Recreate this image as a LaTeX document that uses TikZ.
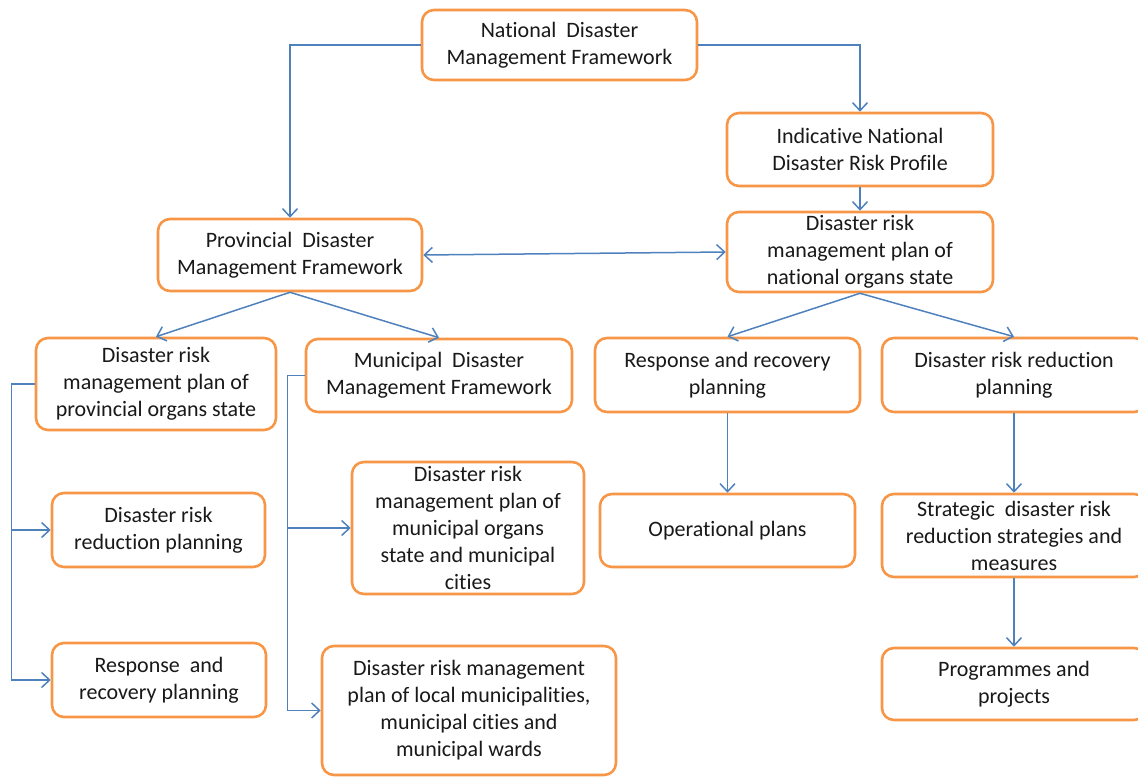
\documentclass[tikz,border=0pt]{standalone}
\usepackage{fontspec}
\setmainfont{Carlito}[Ligatures=NoCommon]
\usetikzlibrary{arrows.meta}
\definecolor{boxorange}{HTML}{F79646}
\definecolor{linkblue}{HTML}{4F81BD}
% keep "t" and "i" as separate letters
\newcommand\ti{t\kern0pt i}
\begin{document}
\begin{tikzpicture}[x=1bp,y=-1bp,
  box/.style={draw=boxorange, line width=2.6bp, rounded corners=12bp, fill=white,
    align=center, inner sep=0pt, text=black!90,
    font=\fontsize{22bp}{27bp}\selectfont},
  link/.style={draw=linkblue, line width=1.5bp, -{Straight Barb[length=8bp,width=15bp]}},
  biglink/.style={draw=linkblue, line width=1.5bp,
    {Straight Barb[length=8bp,width=15bp]}-{Straight Barb[length=8bp,width=15bp]}}
]
\clip (0,0) rectangle (1138,777);

% top level
\node[box, minimum width=275bp, minimum height=70bp] (nat) at (559.5,45)
  {Na\ti onal\ \ Disaster\\Management Framework};
\node[box, minimum width=266bp, minimum height=73bp] (ind) at (860,149.5)
  {Indica\ti ve Na\ti onal\\Disaster Risk Profile};

% second level
\node[box, minimum width=264bp, minimum height=72bp] (prov) at (290,255)
  {Provincial\ \ Disaster\\Management Framework};
\node[box, minimum width=266bp, minimum height=80bp] (drmn) at (860,252)
  {Disaster risk\\management plan of\\na\ti onal organs state};

% third level
\node[box, minimum width=240bp, minimum height=92bp] (drmp) at (156,384)
  {Disaster risk\\management plan of\\provincial organs state};
\node[box, minimum width=266bp, minimum height=73bp] (mun) at (439,375.5)
  {Municipal\ \ Disaster\\Management Framework};
\node[box, minimum width=265bp, minimum height=74bp] (resp) at (727.5,375)
  {Response\ and recovery\\planning};
\node[box, minimum width=264bp, minimum height=74bp] (drr) at (1014,375)
  {Disaster risk reduc\ti on\\planning};

% fourth level
\node[box, minimum width=213bp, minimum height=74bp] (drrl) at (158.5,530)
  {Disaster risk\\reduc\ti on planning};
\node[box, minimum width=232bp, minimum height=132bp] (drmm) at (468,528)
  {Disaster risk\\management plan of\\municipal organs\\state and municipal\\ci\ti es};
\node[box, minimum width=255bp, minimum height=73bp] (oper) at (727.5,530.5)
  {Opera\ti onal plans};
\node[box, minimum width=264bp, minimum height=83bp] (strat) at (1014,535.5)
  {Strategic\ \ disaster risk\\reduc\ti on strategies and\\measures};

% bottom level
\node[box, minimum width=214bp, minimum height=74bp] (respl) at (159,680)
  {Response\ \ and\\recovery planning};
\node[box, minimum width=294bp, minimum height=129bp] (drml) at (469,710.5)
  {Disaster risk management\\plan of local municipali\ti es,\\municipal ci\ti es and\\municipal wards};
\node[box, minimum width=264bp, minimum height=72bp] (prog) at (1014,684)
  {Programmes and\\projects};

% connectors
\draw[link] (nat.west) -| (prov.north);
\draw[link] (nat.east) -| (ind.north);
\draw[link] (ind.south) -- (drmn.north);
\draw[biglink] (prov.east) -- (drmn.west);
\draw[link] (prov.south) -- (drmp.north);
\draw[link] (prov.south) -- (mun.north);
\draw[link] (drmn.south) -- (resp.north);
\draw[link] (drmn.south) -- (drr.north);
\draw[link] (resp.south) -- (oper.north);
\draw[link] (drr.south) -- (strat.north);
\draw[link] (strat.south) -- (prog.north);

% provincial branch
\draw[link] (drmp.west) -- ++(-23,0) |- (respl.west);
\draw[link] (drmp.west) ++(-23,0) |- (drrl.west);

% municipal branch
\draw[link] (mun.west) -- ++(-17,0) |- (drml.west);
\draw[link] (mun.west) ++(-17,0) |- (drmm.west);
\end{tikzpicture}
\end{document}
